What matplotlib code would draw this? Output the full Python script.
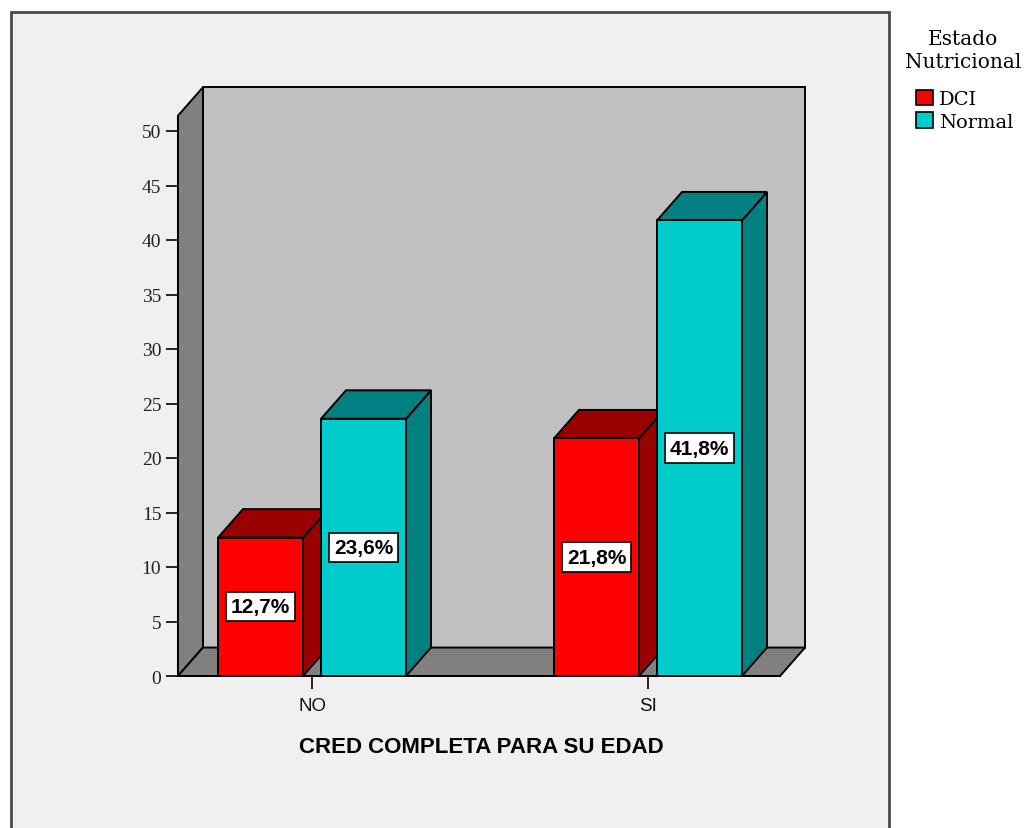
import numpy as np

import matplotlib as mpl
mpl.use('Agg')
import matplotlib.pyplot as plt
from matplotlib.patches import Polygon, Rectangle, Patch

categories = ['NO', 'SI']
series = ['DCI', 'Normal']
values = {'DCI': [12.7, 21.8], 'Normal': [23.6, 41.8]}
yticks = [0, 5, 10, 15, 20, 25, 30, 35, 40, 45, 50]

front_colors = {'DCI': '#ff0000', 'Normal': '#00cccc'}
shade_colors = {'DCI': '#990000', 'Normal': '#008080'}

W, H = 1027, 829

# 3D box geometry in data units
bar_w = 0.253
bar_gap = 0.0536
ddx = 0.0744
ddy = 2.61
wall_x0 = -0.399
wall_x1 = 1.393
wall_top = 51.4

fig = plt.figure(figsize=(W / 100., H / 100.), dpi=100)
fig.patch.set_facecolor('white')

# Outer chart frame
fig.add_artist(Rectangle((11. / W, -0.02), 878. / W, 816. / H + 0.02,
                         transform=fig.transFigure, facecolor='#f0f0f0',
                         edgecolor='#4a4a4a', lw=2, zorder=-10))

# Axes placed so that NO sits at px 312, SI at px 648 and 0..50 spans px 677..132
ax_l, ax_r, ax_t, ax_b = 150., 880., 60., 700.
ax = fig.add_axes([ax_l / W, 1 - ax_b / H, (ax_r - ax_l) / W, (ax_b - ax_t) / H])
ax.set_xlim((ax_l - 312.) / 336., (ax_r - 312.) / 336.)
ax.set_ylim((677. - ax_b) / 10.9, (677. - ax_t) / 10.9)
ax.patch.set_visible(False)

edge = dict(edgecolor='black', lw=1.4, joinstyle='miter')

# Back wall, side wall and floor
ax.add_patch(Rectangle((wall_x0 + ddx, ddy), wall_x1 - wall_x0, wall_top,
                       facecolor='#c0c0c0', zorder=1, **edge))
ax.add_patch(Polygon([(wall_x0, 0), (wall_x0 + ddx, ddy), (wall_x0 + ddx, wall_top + ddy),
                      (wall_x0, wall_top)], facecolor='#808080', zorder=1, **edge))
ax.add_patch(Polygon([(wall_x0, 0), (wall_x1, 0), (wall_x1 + ddx, ddy), (wall_x0 + ddx, ddy)],
                     facecolor='#808080', zorder=1, **edge))

# Bars, drawn left to right so each front face covers the previous side face
z = 2
for ic in range(len(categories)):
    for s in series:
        h = values[s][ic]
        if s == 'DCI':
            x0 = ic - bar_gap / 2. - bar_w
        else:
            x0 = ic + bar_gap / 2.
        x1 = x0 + bar_w
        ax.add_patch(Polygon([(x1, 0), (x1 + ddx, ddy), (x1 + ddx, h + ddy), (x1, h)],
                             facecolor=shade_colors[s], zorder=z, **edge))
        ax.add_patch(Polygon([(x0, h), (x0 + ddx, h + ddy), (x1 + ddx, h + ddy), (x1, h)],
                             facecolor=shade_colors[s], zorder=z, **edge))
        ax.add_patch(Rectangle((x0, 0), bar_w, h, facecolor=front_colors[s], zorder=z, **edge))
        label = ('%.1f%%' % h).replace('.', ',')
        ax.text(x0 + bar_w / 2., h / 2., label, ha='center', va='center',
                family='Liberation Sans', weight='bold', size=15, zorder=z + 1,
                bbox=dict(boxstyle='square,pad=0.25', facecolor='white',
                          edgecolor='black', lw=1.2))
        z += 1

# Axes lines and ticks
for side in ['top', 'right']:
    ax.spines[side].set_visible(False)
ax.spines['left'].set_position(('data', wall_x0))
ax.spines['left'].set_bounds(0, wall_top)
ax.spines['bottom'].set_position(('data', 0))
ax.spines['bottom'].set_bounds(wall_x0, wall_x1)
for side in ['left', 'bottom']:
    ax.spines[side].set_linewidth(1.4)
    ax.spines[side].set_zorder(5)

ax.set_yticks(yticks)
ax.set_yticklabels([str(t) for t in yticks], family='Liberation Serif', size=14)
ax.set_xticks(range(len(categories)))
ax.set_xticklabels(categories, family='Liberation Sans', size=13.5)
ax.tick_params(axis='y', direction='out', length=9, width=1.4, color='#222222',
               pad=3, labelcolor='#222222')
ax.tick_params(axis='x', direction='out', length=9, width=1.4, color='#222222',
               pad=6, labelcolor='#111111')

ax.set_xlabel('CRED COMPLETA PARA SU EDAD', family='Liberation Sans', weight='bold', size=16)
ax.xaxis.set_label_coords((481. - ax_l) / (ax_r - ax_l), (ax_b - 737.) / (ax_b - ax_t))
ax.xaxis.label.set_va('top')

# Legend
fig.text(963. / W, 1 - 51. / H, 'Estado\nNutricional', ha='center', va='center',
         multialignment='center', family='DejaVu Serif', size=14.5, linespacing=1.25)
handles = [Patch(facecolor=front_colors[s], edgecolor='black', lw=1.2) for s in series]
leg = fig.legend(handles, series, loc='upper left',
                 bbox_to_anchor=(916. / W, 1 - 90.5 / H), frameon=False,
                 prop=dict(family='DejaVu Serif', size=14),
                 handlelength=0.87, handleheight=0.87, handletextpad=0.3,
                 labelspacing=0.22, borderaxespad=0, borderpad=0)

fig.savefig('out.png', dpi=100)
